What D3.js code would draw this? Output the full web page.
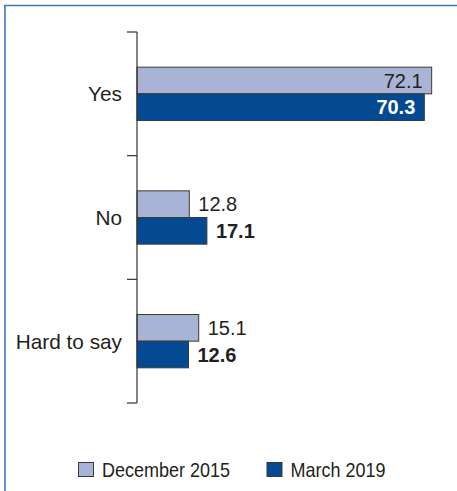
<!DOCTYPE html>
<html>
<head>
<meta charset="utf-8">
<script src="https://cdn.jsdelivr.net/npm/d3@7"></script>
<style>
  html, body { margin: 0; padding: 0; background: #fff; }
  svg { display: block; font-family: "Liberation Sans", Arial, Helvetica, sans-serif; }
</style>
</head>
<body>
<svg id="chart" width="457" height="491"></svg>
<script>
const categories = ["Yes", "No", "Hard to say"];
const seriesNames = ["December 2015", "March 2019"];
const dec2015 = [72.1, 12.8, 15.1];
const mar2019 = [70.3, 17.1, 12.6];
const seriesColors = ["#a8b3d5", "#034a93"];

const svg = d3.select("#chart");
const textColor = "#231f20";

// frame (top + left edges)
svg.append("line").attr("x1", 4).attr("x2", 457).attr("y1", 5.5).attr("y2", 5.5)
  .attr("stroke", "#3f76ba").attr("stroke-width", 1.6);
svg.append("line").attr("x1", 5).attr("x2", 5).attr("y1", 5).attr("y2", 491)
  .attr("stroke", "#3f76ba").attr("stroke-width", 1.6);

const x = d3.scaleLinear().domain([0, 100]).range([137, 545.7]);
const y = d3.scaleBand().domain(categories).range([32, 403]).padding(0);
const ySub = d3.scaleBand().domain(seriesNames).range([0, y.bandwidth()])
  .paddingInner(0).paddingOuter(1.32);

const data = categories.map((c, i) => ({
  cat: c,
  values: [
    { s: seriesNames[0], v: dec2015[i], idx: 0 },
    { s: seriesNames[1], v: mar2019[i], idx: 1 }
  ]
}));

const g = svg.append("g");
const groups = g.selectAll("g.cat").data(data).join("g")
  .attr("transform", d => `translate(0,${y(d.cat)})`);

groups.selectAll("rect").data(d => d.values).join("rect")
  .attr("x", x(0))
  .attr("y", d => ySub(d.s))
  .attr("width", d => x(d.v) - x(0))
  .attr("height", ySub.bandwidth())
  .attr("fill", d => seriesColors[d.idx])
  .attr("stroke", "#3a3a3a")
  .attr("stroke-width", 1);

groups.selectAll("text.val").data(d => d.values).join("text")
  .attr("class", "val")
  .attr("x", d => d.v > 40 ? x(d.v) - 9 : x(d.v) + 9)
  .attr("y", d => ySub(d.s) + ySub.bandwidth() / 2)
  .attr("dy", "0.36em")
  .attr("text-anchor", d => d.v > 40 ? "end" : "start")
  .attr("font-size", 20)
  .attr("font-weight", d => d.idx === 1 ? "bold" : "normal")
  .attr("fill", d => (d.idx === 1 && d.v > 40) ? "#ffffff" : textColor)
  .text(d => d3.format(".1f")(d.v));

// axis: vertical line with ticks at band boundaries
const axisG = svg.append("g");
axisG.append("line")
  .attr("x1", x(0)).attr("x2", x(0))
  .attr("y1", y.range()[0]).attr("y2", y.range()[1])
  .attr("stroke", "#333").attr("stroke-width", 1.2);
const boundaries = categories.map(c => y(c)).concat([y.range()[1]]);
axisG.selectAll("line.tick").data(boundaries).join("line")
  .attr("class", "tick")
  .attr("x1", x(0) - 10).attr("x2", x(0))
  .attr("y1", d => d).attr("y2", d => d)
  .attr("stroke", "#333").attr("stroke-width", 1.2);

axisG.selectAll("text.cat").data(categories).join("text")
  .attr("class", "cat")
  .attr("x", x(0) - 15)
  .attr("y", d => y(d) + y.bandwidth() / 2)
  .attr("dy", "0.36em")
  .attr("text-anchor", "end")
  .attr("font-size", 20.8)
  .attr("fill", textColor)
  .text(d => d);

// legend
const legendX = [78, 266.5];
const legend = svg.append("g");
const items = legend.selectAll("g").data(seriesNames).join("g")
  .attr("transform", (d, i) => `translate(${legendX[i]},462)`);
items.append("rect")
  .attr("x", 0.5).attr("y", 0.5).attr("width", 15).attr("height", 14)
  .attr("fill", (d, i) => seriesColors[i])
  .attr("stroke", "#3a3a3a").attr("stroke-width", 1);
items.append("text")
  .attr("transform", "translate(24,14.5) scale(0.9,1)")
  .attr("font-size", 20)
  .attr("fill", textColor)
  .text(d => d);
</script>
</body>
</html>
